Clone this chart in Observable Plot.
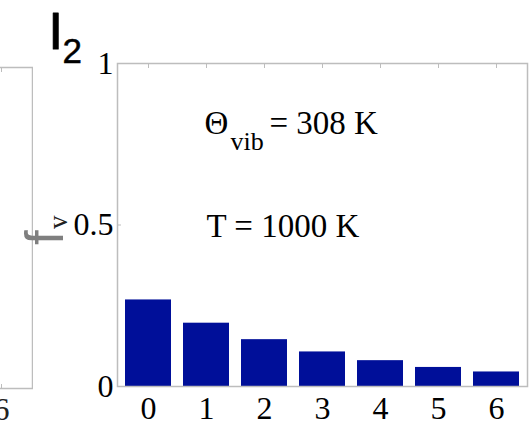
<!DOCTYPE html>
<html><head><meta charset="utf-8">
<script src="https://cdn.jsdelivr.net/npm/d3@7"></script>
<script src="https://cdn.jsdelivr.net/npm/@observablehq/plot@0.6"></script>
<style>
html,body{margin:0;padding:0;background:#fff;}
#wrap{position:relative;width:529px;height:425px;overflow:hidden;background:#fff;}
#left{position:absolute;left:0;top:0;width:33px;height:425px;overflow:hidden;}
#main{position:absolute;left:0;top:0;width:529px;height:425px;}
</style></head><body>
<div id="wrap"><div id="left"></div><div id="main"></div></div>
<script>
// vibrational level v
const levels = [0, 1, 2, 3, 4, 5, 6];
// population fraction f_v
const fractions = [0.268, 0.196, 0.145, 0.107, 0.080, 0.059, 0.045];
const yTicks = [0, 0.5, 1];
const yTickLabels = ["0", "0.5", "1"];
const leftPanelTicks = [6];
const titleMain = "I";
const titleSub = "2";
const yLabelMain = "f";
const yLabelSub = "v";
const thetaSymbol = "Θ";
const thetaSub = "vib";
const thetaValue = "= 308 K";
const tempText = "T = 1000 K";

const serif = "'Liberation Serif', 'Times New Roman', serif";
const sans = "'Liberation Sans', Arial, sans-serif";
const grey = "#bdbdbd";
const barColor = "#000f99";

const data = levels.map((v, i) => ({level: v, f: fractions[i]}));

// partially visible neighbouring panel (cropped at left)
const left = Plot.plot({
  width: 33, height: 425,
  marginLeft: -377, marginRight: 1, marginTop: 67, marginBottom: 37,
  style: {background: "transparent", fontFamily: serif, fontSize: "32px", color: "#000"},
  x: {type: "band", domain: levels, paddingInner: 0.2, paddingOuter: 0.1},
  y: {domain: [0, 1], axis: null},
  marks: [
    Plot.axisX({anchor: "bottom", ticks: leftPanelTicks, tickSize: 0, tickPadding: 9, label: null, fill: "#222"}),
    Plot.axisX({anchor: "bottom", ticks: leftPanelTicks, tickSize: 4, dy: -4, fill: "none", stroke: grey, label: null}),
    Plot.axisX({anchor: "top", ticks: leftPanelTicks, tickSize: 4, dy: 4, fill: "none", stroke: grey, label: null}),
    Plot.frame({stroke: grey, strokeWidth: 1.5})
  ]
});
document.getElementById("left").appendChild(left);

const main = Plot.plot({
  width: 529, height: 425,
  marginLeft: 117, marginRight: 2, marginTop: 63, marginBottom: 39,
  style: {background: "transparent", fontFamily: serif, fontSize: "32px", color: "#000", overflow: "visible"},
  x: {type: "band", domain: levels, paddingInner: 0.2, paddingOuter: 0.1},
  y: {domain: [0, 1]},
  marks: [
    Plot.axisX({anchor: "bottom", tickSize: 0, tickPadding: 10, label: null, fill: "#000"}),
    Plot.axisX({anchor: "bottom", tickSize: 4, dy: -4, fill: "none", stroke: grey, label: null}),
    Plot.axisX({anchor: "top", tickSize: 4, dy: 4, fill: "none", stroke: grey, label: null}),
    Plot.axisY({ticks: yTicks, tickSize: 0, tickPadding: 4, label: null, fill: "#000",
      tickFormat: d => yTickLabels[yTicks.indexOf(d)]}),
    Plot.axisY({ticks: yTicks, tickSize: 4, dx: 4, fill: "none", stroke: grey, label: null}),
    Plot.barY(data, {x: "level", y: "f", fill: barColor}),
    Plot.frame({stroke: grey, strokeWidth: 1.5}),
    // panel title I2
    Plot.text([titleMain], {frameAnchor: "top-left", text: d => d, dx: -69, dy: -15,
      textAnchor: "start", lineAnchor: "bottom", fontFamily: sans, fontSize: 52, fill: "#000",
      stroke: "#000", strokeWidth: 1.1}),
    Plot.text([titleSub], {frameAnchor: "top-left", text: d => d, dx: -55, dy: -1,
      textAnchor: "start", lineAnchor: "bottom", fontFamily: sans, fontSize: 35, fill: "#000",
      stroke: "#000", strokeWidth: 0.5}),
    // y label f_v (rotated)
    Plot.text([yLabelMain], {frameAnchor: "left", text: d => d, rotate: -90, dx: -55, dy: 20,
      textAnchor: "start", lineAnchor: "bottom", fontFamily: sans, fontSize: 53, fill: "#7f7f7f"}),
    Plot.text([yLabelSub], {frameAnchor: "left", text: d => d, rotate: -90, dx: -51, dy: 4,
      textAnchor: "start", lineAnchor: "bottom", fontFamily: serif, fontSize: 27, fill: "#222"}),
    // annotations
    Plot.text([thetaSymbol], {frameAnchor: "top-left", text: d => d, dx: 87, dy: 70,
      textAnchor: "start", lineAnchor: "bottom", fontFamily: serif, fontSize: 33, fill: "#000"}),
    Plot.text([thetaSub], {frameAnchor: "top-left", text: d => d, dx: 113, dy: 86,
      textAnchor: "start", lineAnchor: "bottom", fontFamily: serif, fontSize: 26, fill: "#000"}),
    Plot.text([thetaValue], {frameAnchor: "top-left", text: d => d, dx: 152, dy: 70,
      textAnchor: "start", lineAnchor: "bottom", fontFamily: serif, fontSize: 33, fill: "#000"}),
    Plot.text([tempText], {frameAnchor: "top-left", text: d => d, dx: 89, dy: 173,
      textAnchor: "start", lineAnchor: "bottom", fontFamily: serif, fontSize: 33, fill: "#000"})
  ]
});
document.getElementById("main").appendChild(main);
</script>
</body></html>
